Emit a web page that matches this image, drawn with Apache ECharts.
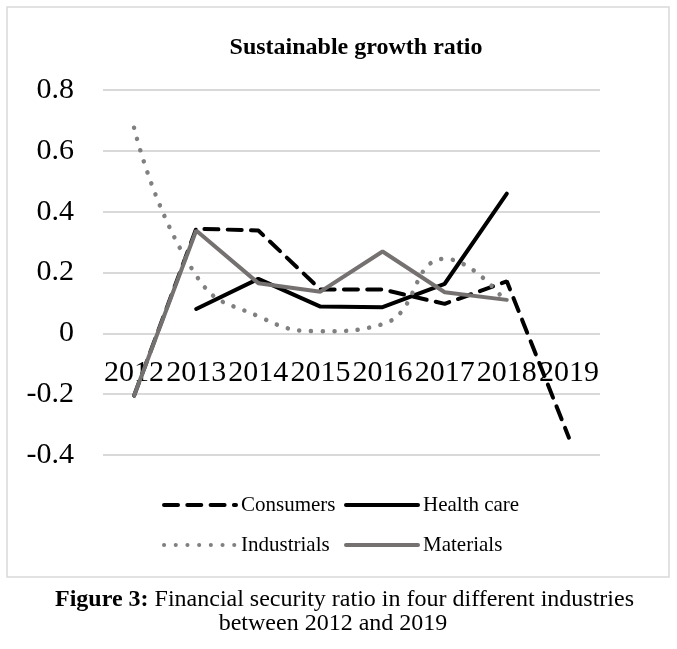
<!DOCTYPE html>
<html>
<head>
<meta charset="utf-8">
<script src="https://cdn.jsdelivr.net/npm/echarts@6/dist/echarts.min.js"></script>
<style>
html,body{margin:0;padding:0;background:#fff;}
#chart{width:677px;height:649px;}
</style>
</head>
<body>
<div id="chart"></div>
<script>
var categories = ['2012','2013','2014','2015','2016','2017','2018','2019'];
var consumers  = [-0.205, 0.344, 0.338, 0.144, 0.144, 0.097, 0.171, -0.343];
var healthCare = [null, 0.080, 0.179, 0.088, 0.086, 0.163, 0.459, null];
var industrials= [0.676, 0.190, 0.056, 0.007, 0.030, 0.245, 0.100, null];
var materials  = [-0.205, 0.338, 0.165, 0.137, 0.269, 0.135, 0.110, null];
var yTicks = {min: -0.4, max: 0.8, interval: 0.2};
var titleText = 'Sustainable growth ratio';
var captionBold = 'Figure 3:';
var captionLine1 = ' Financial security ratio in four different industries';
var captionLine2 = 'between 2012 and 2019';

var FONT = 'Liberation Serif';
var GRID_TOP = 90, GRID_BOTTOM_Y = 455;
// distance from the bottom of the grid up to the value 0, so the category axis sits on zero
var zeroOffset = -(GRID_BOTTOM_Y - GRID_TOP) * (0 - yTicks.min) / (yTicks.max - yTicks.min);

var chart = echarts.init(document.getElementById('chart'), null, {renderer:'canvas'});

function legendAt(name, left, cy) {
  return {
    data: [name], left: left, top: cy - 10.5, padding: 0,
    itemWidth: 72, itemHeight: 21, itemGap: 0,
    selectedMode: false,
    itemStyle: {opacity: 0},
    lineStyle: {width: 4},
    textStyle: {fontFamily: FONT, fontSize: 21, color: '#000'}
  };
}

var option = {
  backgroundColor: '#fff',
  animation: false,
  grid: {left: 103, right: 77, top: GRID_TOP, bottom: 649 - GRID_BOTTOM_Y, containLabel: false},
  legend: [
    legendAt('Consumers', 162, 505),
    legendAt('Health care', 344, 505),
    legendAt('Industrials', 162, 545),
    legendAt('Materials', 344, 545)
  ],
  xAxis: {
    type: 'category', data: categories, boundaryGap: true,
    offset: zeroOffset,
    axisLine: {show: false, onZero: false},
    axisTick: {show: false},
    axisLabel: {interval: 0, margin: 25, fontFamily: FONT, fontSize: 30, color: '#000'},
    splitLine: {show: false}
  },
  yAxis: {
    type: 'value', min: yTicks.min, max: yTicks.max, interval: yTicks.interval,
    axisLine: {show: false}, axisTick: {show: false},
    axisLabel: {margin: 29, fontFamily: FONT, fontSize: 30, color: '#000',
      formatter: function(v){ return String(Math.round(v*10)/10); }},
    splitLine: {lineStyle: {color: '#d9d9d9', width: 2}}
  },
  series: [
    {name: 'Consumers', type: 'line', data: consumers, symbol: 'none', connectNulls: false,
     lineStyle: {color: '#000', width: 4, type: [14, 9.3], cap: 'round'}, itemStyle: {color: '#000'}},
    {name: 'Health care', type: 'line', data: healthCare, symbol: 'none', connectNulls: false,
     lineStyle: {color: '#000', width: 4, cap: 'round'}, itemStyle: {color: '#000'}},
    {name: 'Industrials', type: 'line', data: industrials, symbol: 'none', smooth: 0.5, connectNulls: false,
     lineStyle: {color: '#808080', width: 4.5, type: [0.1, 11.6], cap: 'round'}, itemStyle: {color: '#808080'}},
    {name: 'Materials', type: 'line', data: materials, symbol: 'none', connectNulls: false,
     lineStyle: {color: '#767171', width: 4, cap: 'round'}, itemStyle: {color: '#767171'}}
  ],
  graphic: [
    {type: 'rect', silent: true, z: -10,
     shape: {x: 7, y: 7, width: 662, height: 570},
     style: {fill: 'none', stroke: '#d9d9d9', lineWidth: 1.5}},
    {type: 'text', silent: true, x: 356, y: 48,
     style: {text: titleText, fontFamily: FONT, fontSize: 24, fontWeight: 'bold', fill: '#000',
             textAlign: 'center', textVerticalAlign: 'middle'}},
    {type: 'text', silent: true, x: 344.5, y: 600,
     style: {text: '{b|' + captionBold + '}' + captionLine1, fontFamily: FONT, fontSize: 24, fill: '#000',
             textAlign: 'center', textVerticalAlign: 'middle',
             rich: {b: {fontFamily: FONT, fontSize: 24, fontWeight: 'bold', fill: '#000'}}}},
    {type: 'text', silent: true, x: 333, y: 624,
     style: {text: captionLine2, fontFamily: FONT, fontSize: 24, fill: '#000',
             textAlign: 'center', textVerticalAlign: 'middle'}}
  ]
};
chart.setOption(option);
</script>
</body>
</html>
